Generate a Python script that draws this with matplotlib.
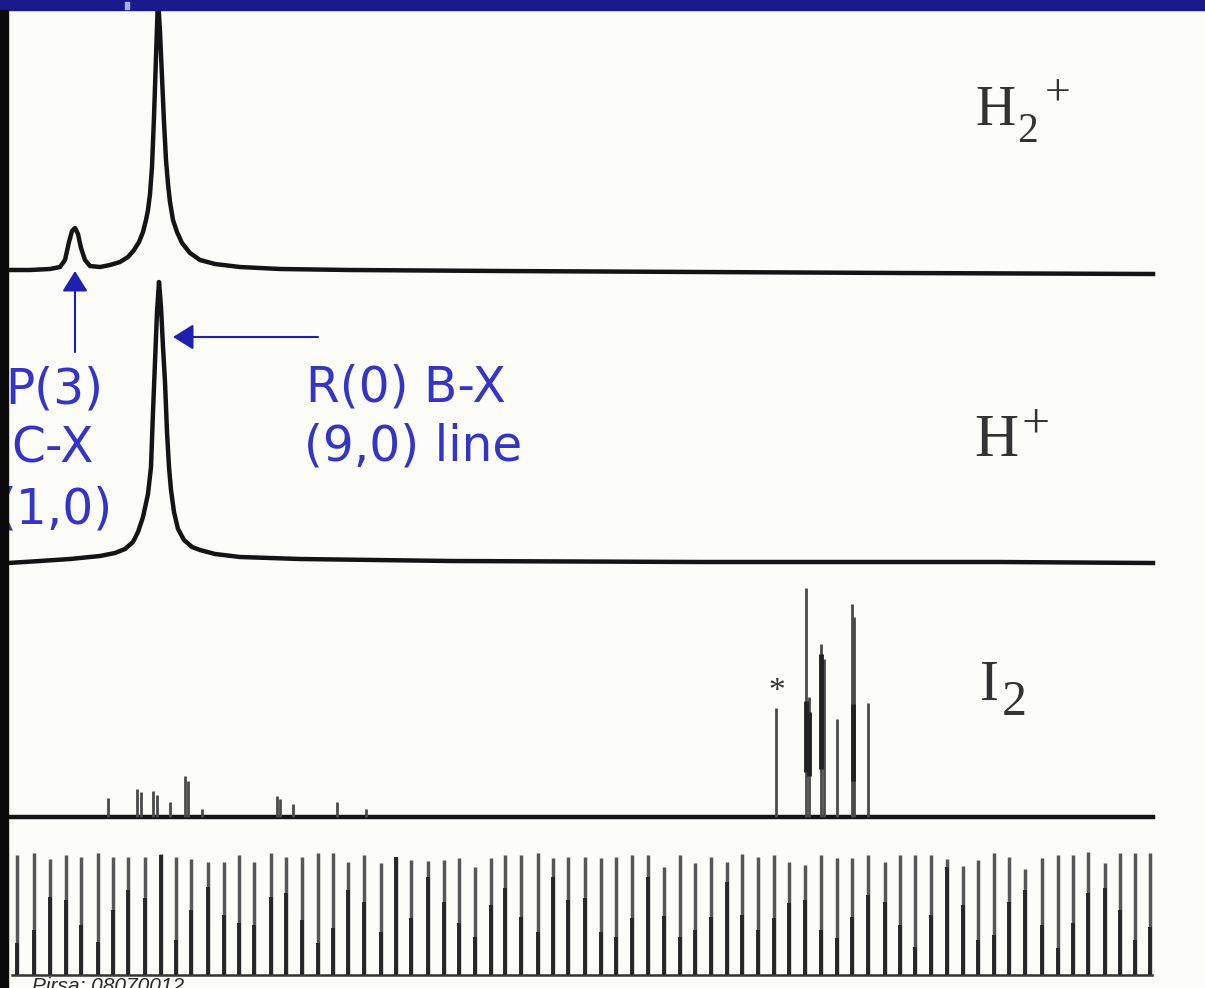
import matplotlib.pyplot as plt
from matplotlib.patches import Rectangle

W, H = 1205, 988

# H2+ ion signal vs scan channel (intensity above baseline, arb. units)
h2_x = [8, 30, 50, 60, 65, 69, 72, 75, 78, 81, 85, 90, 100, 110, 120, 128, 134, 139, 143, 146,
        148, 150, 152, 154, 156, 158, 160, 162, 164, 166, 168, 170, 173, 177, 182, 190, 200, 215, 240, 280,
        350, 500, 700, 900, 1153]
h2_y = [2, 2, 3, 5, 12, 30, 41, 44, 38, 24, 12, 6, 5, 7, 10, 15, 22, 30, 40, 52,
        62, 78, 105, 155, 215, 275, 240, 195, 150, 112, 88, 70, 52, 40, 29, 19, 12, 8, 5, 3,
        2, 1, 0, -1, -2]

# H+ ion signal
hp_x = [8, 40, 70, 100, 115, 125, 133, 138, 143, 148, 151, 153, 155, 157, 159, 161, 163, 165, 167, 169,
        171, 174, 178, 184, 192, 200, 215, 240, 300, 450, 700, 1000, 1153]
hp_y = [-1, 1, 3, 6, 9, 13, 20, 30, 45, 68, 95, 150, 200, 250, 280, 255, 215, 180, 130, 95,
        72, 50, 33, 22, 15, 12, 8, 5, 3, 1, 0, 0, -1]

# I2 reference lines
i2_x = [108, 137, 141, 153, 157, 170, 185, 188, 202, 277, 280, 293, 337, 366,
        776, 806, 809, 821, 824, 837, 852, 854, 868]
i2_h = [19, 28, 25, 26, 22, 15, 41, 36, 8, 21, 18, 13, 15, 8,
        109, 229, 120, 173, 158, 98, 213, 200, 114]
i2_dark_x = [806, 809, 821, 853]
i2_dark_lo = [45, 41, 48, 36]
i2_dark_hi = [116, 105, 163, 113]

# etalon fringes
fringe_x = [17, 34, 50, 66, 81, 98, 113, 128, 145, 161, 176, 191, 208, 224, 239, 254, 271, 286, 302, 318,
            333, 348, 364, 381, 396, 411, 428, 444, 459, 475, 491, 505, 521, 538, 553, 568, 585, 601, 616, 632,
            648, 664, 680, 695, 711, 727, 742, 758, 774, 789, 805, 821, 837, 852, 868, 885, 900, 915, 931, 947,
            963, 978, 994, 1009, 1025, 1042, 1058, 1073, 1088, 1105, 1120, 1135, 1150]
fringe_top = [120, 122, 116, 120, 118, 122, 118, 118, 118, 121, 118, 116, 113, 113, 120, 113, 122, 118, 118, 122,
              122, 113, 120, 112, 118, 115, 114, 115, 117, 108, 117, 120, 120, 122, 117, 118, 118, 117, 118, 120,
              120, 108, 120, 112, 118, 113, 121, 118, 120, 113, 110, 120, 117, 117, 120, 113, 120, 120, 120, 116,
              109, 115, 122, 118, 106, 117, 120, 120, 123, 112, 122, 122, 122]
fringe_dark = [32, 45, 78, 75, 50, 33, 65, 85, 77, 120, 35, 65, 88, 60, 52, 50, 78, 82, 55, 32,
               47, 85, 73, 43, 118, 57, 98, 73, 52, 38, 70, 87, 58, 43, 98, 75, 77, 43, 38, 57,
               98, 59, 38, 45, 58, 93, 60, 45, 57, 72, 75, 45, 37, 58, 80, 73, 50, 28, 60, 108,
               70, 35, 40, 73, 85, 50, 27, 52, 82, 87, 65, 35, 48]

fig = plt.figure(figsize=(W / 100, H / 100), dpi=100, facecolor='#fcfcf8')


def fx(x):
    return x / W


def fy(y):
    return 1 - y / H


def panel(base):
    # one transparent axes per trace, baseline sits at pixel row `base`
    ax = fig.add_axes([fx(8), 0, fx(W - 8), (H - 10) / H])
    ax.set_xlim(8, W)
    ax.set_ylim(base - H, base - 10)
    ax.axis('off')
    ax.patch.set_alpha(0)
    return ax


ink = '#141414'

ax1 = panel(272)
ax1.plot(h2_x, h2_y, color=ink, lw=3.2, solid_joinstyle='round')

ax2 = panel(562)
ax2.plot(hp_x, hp_y, color=ink, lw=3.2, solid_joinstyle='round')

ax3 = panel(817)
ax3.plot([8, 1153], [0, 0], color=ink, lw=3.2)
ax3.vlines(i2_x, 0, i2_h, color='#4a4a4a', lw=2.0)
ax3.vlines(i2_dark_x, i2_dark_lo, i2_dark_hi, color='#222222', lw=3.5)

ax4 = panel(975)
ax4.plot([12, 1152], [0, 0], color='#333333', lw=1.8)
ax4.vlines(fringe_x, 0, fringe_top, color='#575757', lw=2.5)
ax4.vlines(fringe_x, 0, fringe_dark, color='#262626', lw=2.8)

# species labels
serif = 'Liberation Serif'
grey = '#333333'
fig.text(fx(975), fy(125), 'H', family=serif, size=40, color=grey, va='baseline')
fig.text(fx(1017), fy(142), '2', family=serif, size=30, color=grey, va='baseline')
fig.text(fx(1045), fy(105), '+', family=serif, size=33, color=grey, va='baseline')

fig.text(fx(974), fy(456), 'H', family=serif, size=44, color=grey, va='baseline')
fig.text(fx(1021), fy(437), '+', family=serif, size=36, color=grey, va='baseline')

fig.text(fx(980), fy(700), 'I', family=serif, size=41, color=grey, va='baseline')
fig.text(fx(1002), fy(715), '2', family=serif, size=36, color=grey, va='baseline')
fig.text(fx(777), fy(700), '*', family=serif, size=24, color=grey, va='baseline', ha='center')

# blue annotations
blue = '#3434c8'
fig.text(fx(306), fy(402), 'R(0) B-X', size=35, color=blue, va='baseline')
fig.text(fx(304), fy(460), '(9,0) line', size=35, color=blue, va='baseline')
fig.text(fx(103), fy(404), 'P(3)', size=35, color=blue, va='baseline', ha='right')
fig.text(fx(94), fy(462), 'C-X', size=35, color=blue, va='baseline', ha='right')
fig.text(fx(113), fy(523), '(1,0)', size=35, color=blue, va='baseline', ha='right')

arrow = dict(arrowstyle='-|>,head_length=0.45,head_width=0.28', color='#2020b0', lw=1.5,
             mutation_scale=28, shrinkA=0, shrinkB=0)
ax1.annotate('', xy=(fx(75), fy(271)), xytext=(fx(75), fy(352)),
             xycoords='figure fraction', textcoords='figure fraction', arrowprops=arrow)
ax1.annotate('', xy=(fx(173), fy(337)), xytext=(fx(318), fy(337)),
             xycoords='figure fraction', textcoords='figure fraction', arrowprops=arrow)

fig.text(fx(32), fy(992), 'Pirsa: 08070012', family='Liberation Sans', style='italic',
         size=15, color='#2a2a2a', va='baseline')

# slide frame: blue title strip and dark left edge
fig.add_artist(Rectangle((0, fy(10)), 1, 10 / H, transform=fig.transFigure,
                         color='#1a1a8e', zorder=20))
fig.add_artist(Rectangle((fx(125), fy(9)), fx(4), 7 / H, transform=fig.transFigure,
                         color='#a8b0e8', zorder=21))
fig.add_artist(Rectangle((0, 0), fx(8), fy(10), transform=fig.transFigure,
                         color='#0a0a0a', zorder=20))

fig.savefig('out.png', dpi=100, facecolor=fig.get_facecolor())
